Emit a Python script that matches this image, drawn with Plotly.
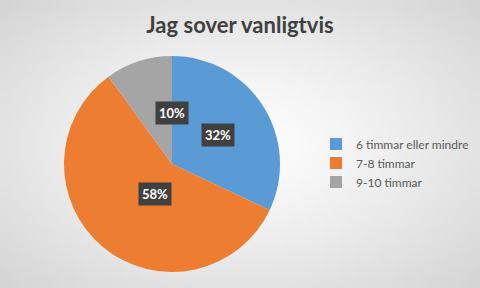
import math, zlib, struct, base64
import plotly.graph_objects as go

labels = ["6 timmar eller mindre", "7-8 timmar", "9-10 timmar"]
values = [32, 58, 10]
colors = ["#5B9BD5", "#ED7D31", "#A5A5A5"]
title = "Jag sover vanligtvis"

W, H = 480, 288

# radial gradient background as small PNG
def make_png(w, h):
    rows = []
    for j in range(h):
        row = bytearray([0])
        for i in range(w):
            dx = (i + 0.5) / w - 0.5
            dy = (j + 0.5) / h - 0.5
            d = min(1.0, math.sqrt(dx ** 2 + dy ** 2) / 0.707)
            v = int(round(255 - (255 - 212) * d ** 1.2))
            row += bytes([v, v, v])
        rows.append(bytes(row))
    raw = b"".join(rows)
    def chunk(t, data):
        c = struct.pack(">I", len(data)) + t + data
        return c + struct.pack(">I", zlib.crc32(t + data) & 0xffffffff)
    png = b"\x89PNG\r\n\x1a\n" + chunk(b"IHDR", struct.pack(">IIBBBBB", w, h, 8, 2, 0, 0, 0))
    png += chunk(b"IDAT", zlib.compress(raw)) + chunk(b"IEND", b"")
    return "data:image/png;base64," + base64.b64encode(png).decode()

bg = make_png(96, 58)

dx0, dx1 = 64 / W, 280 / W
dy0, dy1 = 16 / H, 232 / H

fig = go.Figure(go.Pie(
    labels=labels, values=values, sort=False, direction="clockwise", rotation=0,
    marker=dict(colors=colors, line=dict(width=0)),
    textinfo="none", hoverinfo="label+percent",
    domain=dict(x=[dx0, dx1], y=[dy0, dy1]),
))

# percentage labels in dark boxes at half radius
cx = (dx0 + dx1) / 2 * W
cy = (1 - (dy0 + dy1) / 2) * H
R = (dx1 - dx0) * W / 2
total = sum(values)
cum = 0
for v in values:
    mid = (cum + v / 2) / total * 2 * math.pi
    cum += v
    px = cx + 0.5 * R * math.sin(mid)
    py = cy - 0.5 * R * math.cos(mid)
    fig.add_annotation(x=px / W, y=1 - py / H, xref="paper", yref="paper",
                       text="<b>%d%%</b>" % round(v / total * 100), showarrow=False,
                       font=dict(family="Lato, Open Sans, sans-serif", size=13, color="white"),
                       bgcolor="#404040", borderpad=3)

fig.update_layout(
    width=W, height=H,
    margin=dict(l=0, r=0, t=0, b=0, autoexpand=False),
    paper_bgcolor="#eeeeee",
    title=dict(text="<b>" + title + "</b>", x=0.5, xanchor="center", y=1 - 25 / H, yanchor="middle",
               font=dict(family="Lato, Open Sans, sans-serif", size=22, color="#404040")),
    legend=dict(x=316 / W, y=1 - 163 / H, xanchor="left", yanchor="middle",
                font=dict(family="Lato, Open Sans, sans-serif", size=12, color="#595959"),
                bgcolor="rgba(0,0,0,0)", itemwidth=30),
    images=[dict(source=bg, xref="paper", yref="paper", x=0, y=1, sizex=1, sizey=1,
                 xanchor="left", yanchor="top", sizing="stretch", layer="below")],
    showlegend=True,
)

fig.write_html("out.html")
